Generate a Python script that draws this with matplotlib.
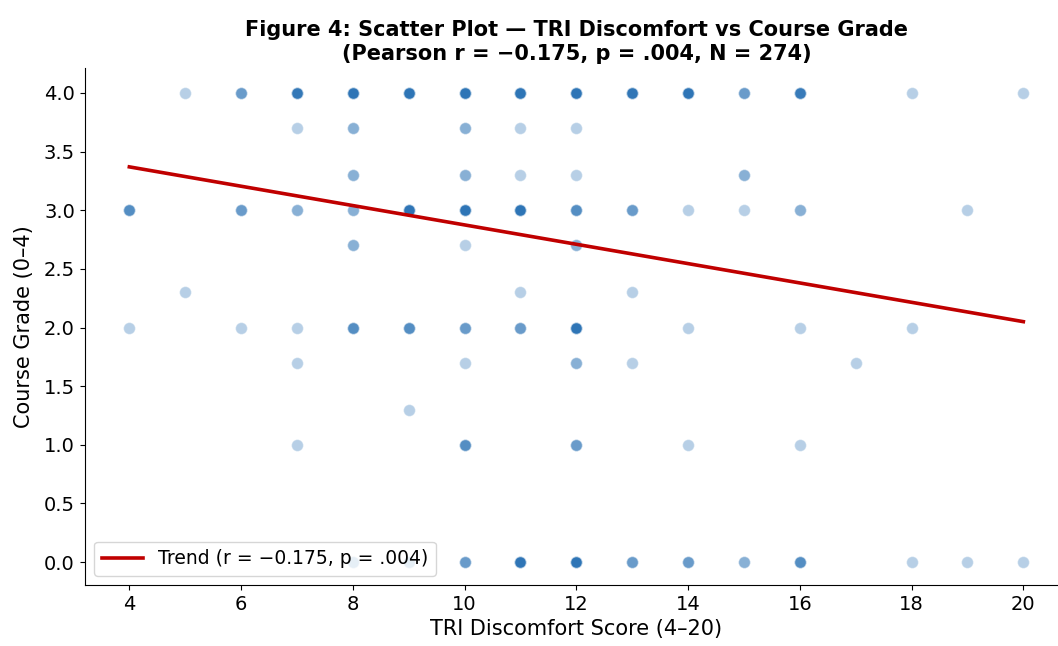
import numpy as np
import matplotlib
matplotlib.use('Agg')
import matplotlib.pyplot as plt

# 每个位置的点数 (TRI分数, 成绩, 人数) —— 根据透明度叠加深浅估计
tri_score = [5, 6, 7, 8, 9, 10, 11, 12, 13, 14, 15, 16, 18, 20,
             7, 8, 10, 11, 12,
             8, 10, 11, 12, 15,
             4, 6, 7, 8, 9, 10, 11, 12, 13, 14, 15, 16, 19,
             8, 10, 12,
             5, 11, 13,
             4, 6, 7, 8, 9, 10, 11, 12, 14, 16, 18,
             7, 10, 12, 13, 17,
             9,
             7, 10, 12, 14, 16,
             8, 9, 10, 11, 12, 13, 14, 15, 16, 18, 19, 20]
grade = [4.0]*14 + [3.7]*5 + [3.3]*5 + [3.0]*13 + [2.7]*3 + [2.3]*3 + \
        [2.0]*11 + [1.7]*5 + [1.3]*1 + [1.0]*5 + [0.0]*12
n_count = [1, 3, 8, 10, 12, 14, 12, 14, 9, 10, 3, 7, 1, 1,
           1, 2, 2, 1, 1,
           2, 2, 1, 1, 2,
           4, 3, 2, 2, 10, 12, 12, 4, 3, 1, 1, 2, 1,
           2, 1, 2,
           1, 1, 1,
           1, 1, 1, 4, 4, 3, 3, 10, 1, 1, 1,
           1, 1, 2, 1, 1,
           1,
           1, 4, 3, 1, 1,
           2, 2, 3, 10, 12, 3, 3, 2, 4, 1, 1, 1]

# 趋势线
trend_x = [4, 20]
trend_y = [3.37, 2.05]

# 展开成每个学生一个点
x = np.repeat(tri_score, n_count)
y = np.repeat(grade, n_count)

fig = plt.figure(figsize=(10.58, 6.46), dpi=100)
# 原图右侧被裁掉了一点，坐标轴延伸到画布外
ax = fig.add_axes([0.080, 0.0944, 0.9295, 0.8003])
ax.scatter(x, y, s=72, color='#2e75b6', alpha=0.34, edgecolor='white', linewidth=0.8, zorder=2)
ax.plot(trend_x, trend_y, color='#c00000', linewidth=2.6, zorder=3,
        label='Trend (r = \u22120.175, p = .004)')

ax.set_xlim(3.2, 20.8)
ax.set_ylim(-0.196, 4.213)
ax.set_xticks(range(4, 21, 2))
ax.set_yticks(np.arange(0, 4.01, 0.5))
ax.yaxis.set_major_formatter(matplotlib.ticker.FormatStrFormatter('%.1f'))
ax.tick_params(labelsize=14)
ax.spines['top'].set_visible(False)
ax.spines['right'].set_visible(False)
ax.set_xlabel('TRI Discomfort Score (4\u201320)', fontsize=15)
ax.set_ylabel('Course Grade (0\u20134)', fontsize=15, labelpad=7)
ax.set_title('Figure 4: Scatter Plot \u2014 TRI Discomfort vs Course Grade\n'
             '(Pearson r = \u22120.175, p = .004, N = 274)',
             fontsize=15, fontweight='bold')
ax.legend(loc='lower left', fontsize=13.5, handlelength=2.2)

fig.savefig('out.png', dpi=100)
